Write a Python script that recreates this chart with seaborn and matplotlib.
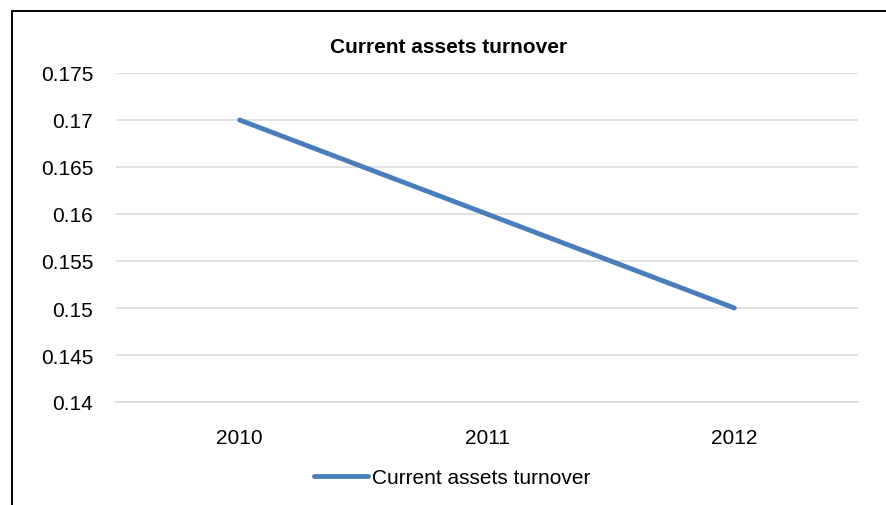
import pandas as pd
import seaborn as sns
from matplotlib import pyplot as plt
from matplotlib.patches import Rectangle

# values
years = [2010, 2011, 2012]
turnover = [0.17, 0.16, 0.15]
y_ticks = [0.14, 0.145, 0.15, 0.155, 0.16, 0.165, 0.17, 0.175]
series_name = "Current assets turnover"

data = pd.DataFrame({"Year": years, series_name: turnover})

sns.set_theme(style="white")
plt.rcParams["font.family"] = ["Liberation Sans", "DejaVu Sans"]

W, H = 886, 506
fig = plt.figure(figsize=(W / 100, H / 100), dpi=100)
fig.patch.set_facecolor("white")

# plot area in pixel terms
left, right, top, bottom = 116, 858, 74, 403
ax = fig.add_axes([left / W, 1 - bottom / H, (right - left) / W, (bottom - top) / H])

sns.lineplot(
    data=data,
    x="Year",
    y=series_name,
    color="#4A7EBB",
    linewidth=3.5,
    solid_capstyle="round",
    label=series_name,
    ax=ax,
    legend=False,
)

ax.set_xlim(2009.5, 2012.5)
ax.set_ylim(0.14, 0.175)
ax.set_xticks(years)
ax.set_xticklabels([str(y) for y in years])
ax.set_yticks(y_ticks)
ax.set_yticklabels([f"{v:g}" for v in y_ticks])
ax.set(xlabel="", ylabel="")
ax.grid(axis="y", color="#D9D9D9", linewidth=1.1)
ax.grid(axis="x", visible=False)
ax.tick_params(axis="both", length=0, labelsize=15, colors="black")
ax.tick_params(axis="y", pad=16.5)
ax.tick_params(axis="x", pad=19)
for side in ["top", "right", "left"]:
    ax.spines[side].set_visible(False)
ax.spines["bottom"].set_color("#D9D9D9")
ax.spines["bottom"].set_linewidth(1.1)

# chart title, centred on the chart area
fig.text(449 / W, 1 - 53 / H, series_name, ha="center", va="baseline",
         fontsize=15, fontweight="bold", color="black")

# legend under the plot
handles, labels = ax.get_legend_handles_labels()
fig.legend(handles, labels, loc="center", bbox_to_anchor=(452 / W, 1 - 479 / H),
           frameon=False, fontsize=15, handlelength=2.6, handletextpad=0.2,
           borderaxespad=0, labelcolor="black")

# chart border (cropped on the right and bottom)
fig.patches.append(Rectangle((11.5 / W, -0.1), 1.2, 1.1 - 12 / H,
                             transform=fig.transFigure, fill=False,
                             edgecolor="black", linewidth=1.4))

fig.savefig("out.png", dpi=100)
